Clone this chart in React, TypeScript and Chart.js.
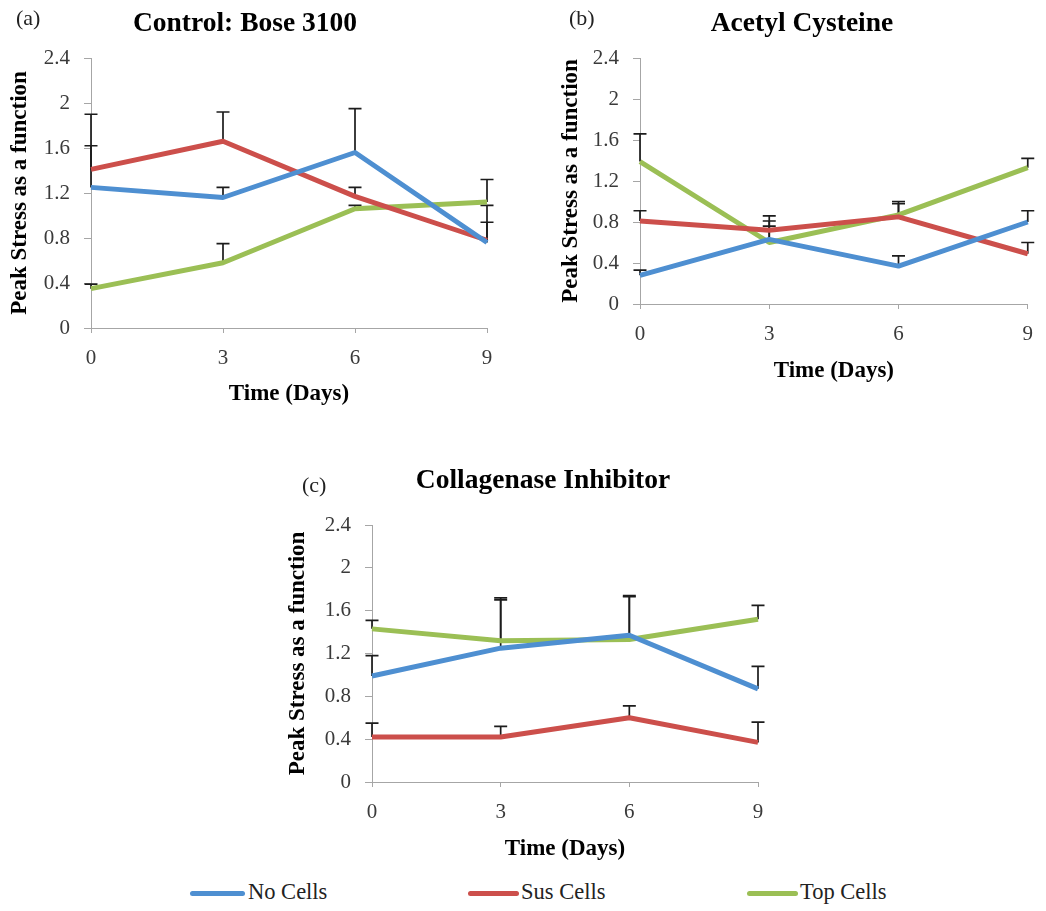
import React, { useEffect, useRef } from "react";
import { Chart, registerables } from "chart.js";

Chart.register(...registerables);

// ---------- data ----------
const days = ["0", "3", "6", "9"];
const yTickValues = [0, 0.4, 0.8, 1.2, 1.6, 2, 2.4];
const yTickLabels = ["0", "0.4", "0.8", "1.2", "1.6", "2", "2.4"];
const seriesNames = ["No Cells", "Sus Cells", "Top Cells"];

// (a) Control: Bose 3100
const controlNoCells = [1.25, 1.16, 1.56, 0.76];
const controlSusCells = [1.41, 1.66, 1.17, 0.78];
const controlTopCells = [0.35, 0.58, 1.06, 1.12];
const controlNoCellsErr = [0.37, 0.09, 0.39, 0.18];
const controlSusCellsErr = [0.49, 0.26, 0.08, 0.31];
const controlTopCellsErr = [0.04, 0.17, 0.03, 0.2];

// (b) Acetyl Cysteine
const acetylNoCells = [0.28, 0.63, 0.37, 0.8];
const acetylSusCells = [0.81, 0.72, 0.85, 0.49];
const acetylTopCells = [1.39, 0.6, 0.87, 1.33];
const acetylNoCellsErr = [0.05, 0.13, 0.1, 0.11];
const acetylSusCellsErr = [0.1, 0.14, 0.15, 0.11];
const acetylTopCellsErr = [0.27, 0.21, 0.11, 0.09];

// (c) Collagenase Inhibitor
const collagenaseNoCells = [0.99, 1.25, 1.37, 0.87];
const collagenaseSusCells = [0.42, 0.42, 0.6, 0.37];
const collagenaseTopCells = [1.43, 1.32, 1.33, 1.52];
const collagenaseNoCellsErr = [0.19, 0.45, 0.36, 0.21];
const collagenaseSusCellsErr = [0.13, 0.1, 0.11, 0.19];
const collagenaseTopCellsErr = [0.08, 0.4, 0.41, 0.13];

// ---------- styles ----------
const SERIF = '"Liberation Serif", "Times New Roman", serif';
const COLORS = ["#4E8FD1", "#CC4F4B", "#9BBF55"];
const AXIS_COLOR = "#A6A6A6";
const TICK_COLOR = "#3a3a3a";
const TICK_SIZE = 21;
const AXIS_TITLE_SIZE = 23;

const errorBarPlugin = {
  id: "errorBars",
  beforeDatasetsDraw(chart: any) {
    const ctx = chart.ctx;
    const yScale = chart.scales.y;
    ctx.save();
    ctx.strokeStyle = "#1c1c1c";
    ctx.lineWidth = 1.7;
    chart.data.datasets.forEach((ds: any, i: number) => {
      const errs = ds.errorBars;
      if (!errs) return;
      const meta = chart.getDatasetMeta(i);
      meta.data.forEach((pt: any, j: number) => {
        const v = ds.data[j];
        const e = errs[j];
        const x = pt.x;
        const y0 = yScale.getPixelForValue(v);
        const y1 = yScale.getPixelForValue(v + e);
        ctx.beginPath();
        ctx.moveTo(x, y0);
        ctx.lineTo(x, y1);
        ctx.moveTo(x - 6.5, y1);
        ctx.lineTo(x + 6.5, y1);
        ctx.stroke();
      });
    });
    ctx.restore();
  },
};

type Panel = {
  key: string;
  letter: string;
  title: string;
  values: number[][];
  errors: number[][];
  canvas: { left: number; top: number; w: number; h: number };
  area: { l: number; r: number; t: number; b: number };
  yTitleX: number;
  xTitleY: number;
  titleX: number;
  titleBaseline: number;
  letterX: number;
  letterBaseline: number;
};

const panels: Panel[] = [
  {
    key: "a",
    letter: "(a)",
    title: "Control: Bose 3100",
    values: [controlNoCells, controlSusCells, controlTopCells],
    errors: [controlNoCellsErr, controlSusCellsErr, controlTopCellsErr],
    canvas: { left: 0, top: 0, w: 520, h: 410 },
    area: { l: 91, r: 487, t: 58, b: 328 },
    yTitleX: 20,
    xTitleY: 394,
    titleX: 245,
    titleBaseline: 31,
    letterX: 16,
    letterBaseline: 25,
  },
  {
    key: "b",
    letter: "(b)",
    title: "Acetyl Cysteine",
    values: [acetylNoCells, acetylSusCells, acetylTopCells],
    errors: [acetylNoCellsErr, acetylSusCellsErr, acetylTopCellsErr],
    canvas: { left: 549, top: 0, w: 497, h: 410 },
    area: { l: 640, r: 1030, t: 58, b: 304 },
    yTitleX: 571,
    xTitleY: 371,
    titleX: 802,
    titleBaseline: 31,
    letterX: 569,
    letterBaseline: 25,
  },
  {
    key: "c",
    letter: "(c)",
    title: "Collagenase Inhibitor",
    values: [collagenaseNoCells, collagenaseSusCells, collagenaseTopCells],
    errors: [collagenaseNoCellsErr, collagenaseSusCellsErr, collagenaseTopCellsErr],
    canvas: { left: 281, top: 440, w: 520, h: 430 },
    area: { l: 372, r: 758, t: 525, b: 782 },
    yTitleX: 298,
    xTitleY: 849,
    titleX: 543,
    titleBaseline: 488,
    letterX: 302,
    letterBaseline: 492,
  },
];

function PanelChart({ p }: { p: Panel }) {
  const ref = useRef<HTMLCanvasElement | null>(null);
  useEffect(() => {
    if (!ref.current) return;
    const { canvas, area } = p;
    const lh = AXIS_TITLE_SIZE * 1.2;
    const yWidth = area.l - canvas.left;
    const xHeight = canvas.top + canvas.h - area.b;
    const yTitlePad = p.yTitleX - canvas.left - lh / 2;
    const xTitlePad = canvas.top + canvas.h - p.xTitleY - lh / 2;
    const chart = new Chart(ref.current, {
      type: "line",
      data: {
        labels: days,
        datasets: seriesNames.map((name, i) => ({
          label: name,
          data: p.values[i],
          errorBars: p.errors[i],
          borderColor: COLORS[i],
          backgroundColor: COLORS[i],
          borderWidth: 5,
          pointRadius: 0,
          tension: 0,
          fill: false,
          borderJoinStyle: "round",
        })) as any,
      },
      options: {
        responsive: false,
        animation: false,
        devicePixelRatio: 1,
        layout: {
          padding: {
            top: area.t - canvas.top,
            right: canvas.left + canvas.w - area.r,
            left: 0,
            bottom: 0,
          },
        },
        plugins: {
          legend: { display: false },
          title: { display: false },
          tooltip: { enabled: false },
        },
        scales: {
          x: {
            type: "category",
            offset: false,
            grid: {
              display: true,
              drawOnChartArea: false,
              drawTicks: true,
              tickLength: 5,
              color: AXIS_COLOR,
            },
            border: { display: true, color: AXIS_COLOR, width: 1 },
            ticks: {
              color: TICK_COLOR,
              font: { family: SERIF, size: TICK_SIZE },
              padding: 13,
              maxRotation: 0,
              autoSkip: false,
            },
            title: {
              display: true,
              text: "Time (Days)",
              color: "#000",
              font: { family: SERIF, size: AXIS_TITLE_SIZE, weight: "bold" },
              padding: { top: 0, bottom: xTitlePad },
            },
            afterFit: (s: any) => {
              s.height = xHeight;
            },
          },
          y: {
            type: "linear",
            min: 0,
            max: 2.4,
            afterBuildTicks: (s: any) => {
              s.ticks = yTickValues.map((v) => ({ value: v }));
            },
            grid: {
              display: true,
              drawOnChartArea: false,
              drawTicks: true,
              tickLength: 7,
              color: AXIS_COLOR,
            },
            border: { display: true, color: AXIS_COLOR, width: 1 },
            ticks: {
              color: TICK_COLOR,
              font: { family: SERIF, size: TICK_SIZE },
              padding: 14,
              callback: (_v: any, i: number) => yTickLabels[i],
            },
            title: {
              display: true,
              text: "Peak Stress as a function",
              color: "#000",
              font: { family: SERIF, size: AXIS_TITLE_SIZE, weight: "bold" },
              padding: { top: yTitlePad, bottom: 0 },
            },
            afterFit: (s: any) => {
              s.width = yWidth;
            },
          },
        },
      } as any,
      plugins: [errorBarPlugin],
    });
    return () => chart.destroy();
  }, [p]);

  const fsTitle = 27.5;
  const fsLetter = 22;
  return (
    <>
      <canvas
        ref={ref}
        width={p.canvas.w}
        height={p.canvas.h}
        style={{
          position: "absolute",
          left: p.canvas.left,
          top: p.canvas.top,
          width: p.canvas.w,
          height: p.canvas.h,
        }}
      />
      <div
        style={{
          position: "absolute",
          left: p.titleX,
          top: p.titleBaseline - 0.8375 * fsTitle,
          transform: "translateX(-50%)",
          fontFamily: SERIF,
          fontWeight: "bold",
          fontSize: fsTitle,
          lineHeight: `${fsTitle}px`,
          whiteSpace: "nowrap",
          color: "#000",
        }}
      >
        {p.title}
      </div>
      <div
        style={{
          position: "absolute",
          left: p.letterX,
          top: p.letterBaseline - 0.8375 * fsLetter,
          fontFamily: SERIF,
          fontSize: fsLetter,
          lineHeight: `${fsLetter}px`,
          whiteSpace: "nowrap",
          color: "#222",
        }}
      >
        {p.letter}
      </div>
    </>
  );
}

const legendItems = [
  { lineLeft: 190, lineRight: 245, textLeft: 248 },
  { lineLeft: 468, lineRight: 519, textLeft: 521 },
  { lineLeft: 747, lineRight: 798, textLeft: 800 },
];

export default function App() {
  const legendY = 893;
  const fsLegend = 22.5;
  return (
    <div
      style={{
        position: "absolute",
        left: 0,
        top: 0,
        width: 1046,
        height: 911,
        background: "#fff",
        overflow: "hidden",
      }}
    >
      {panels.map((p) => (
        <PanelChart key={p.key} p={p} />
      ))}
      {seriesNames.map((name, i) => (
        <React.Fragment key={name}>
          <div
            style={{
              position: "absolute",
              left: legendItems[i].lineLeft,
              top: legendY - 2.5,
              width: legendItems[i].lineRight - legendItems[i].lineLeft,
              height: 5,
              background: COLORS[i],
              borderRadius: 2.5,
            }}
          />
          <div
            style={{
              position: "absolute",
              left: legendItems[i].textLeft,
              top: legendY - fsLegend / 2 - 1,
              fontFamily: SERIF,
              fontSize: fsLegend,
              lineHeight: `${fsLegend}px`,
              whiteSpace: "nowrap",
              color: "#222",
            }}
          >
            {name}
          </div>
        </React.Fragment>
      ))}
    </div>
  );
}
